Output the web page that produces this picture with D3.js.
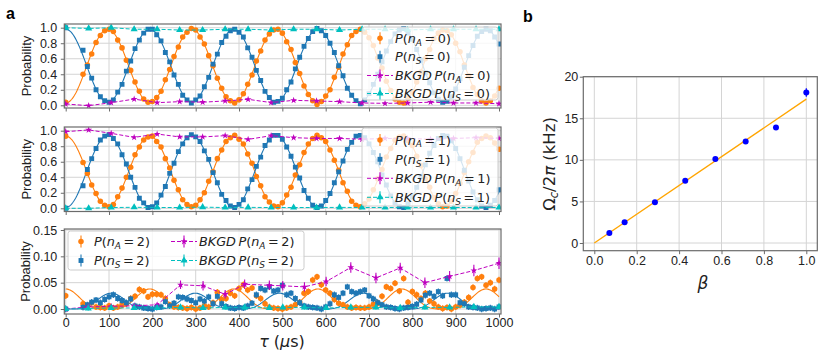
<!DOCTYPE html>
<html>
<head>
<meta charset="utf-8">
<script src="https://cdn.jsdelivr.net/npm/d3@7"></script>
<style>
  body { margin: 0; background: #fff; }
  svg { font-family: "Liberation Sans", Arial, sans-serif; }
</style>
</head>
<body>
<svg id="chart" width="830" height="360"></svg>
<script>
// ---- data: panel a (tau in microseconds) ----
const tau = [
  0, 40, 50, 60, 70, 80, 90, 100, 110, 120,
  130, 140, 150, 160, 170, 180, 190, 200, 210, 220,
  230, 240, 250, 260, 270, 280, 290, 300, 310, 320,
  330, 340, 350, 360, 370, 380, 390, 400, 410, 420,
  430, 440, 450, 460, 470, 480, 490, 500, 510, 520,
  530, 540, 550, 560, 570, 580, 590, 600, 610, 620,
  630, 640, 650, 660, 670, 680, 690, 700, 710, 720,
  730, 740, 750, 760, 770, 780, 790, 800, 810, 820,
  830, 840, 850, 860, 870, 880, 890, 900, 910, 920,
  930, 940, 950, 960, 970, 980, 990, 1000
];

const pA0 = [
  .04, .40, .52, .66, .81, .90, .96, .98, .95, .84,
  .74, .58, .45, .30, .18, .08, .04, .05, .10, .18,
  .33, .46, .63, .75, .88, .94, .99, .97, .88, .79,
  .64, .51, .35, .22, .11, .06, .03, .07, .15, .27,
  .39, .57, .70, .84, .92, .97, .98, .93, .82, .72,
  .55, .41, .25, .14, .06, .01, .05, .12, .20, .36,
  .49, .66, .78, .90, .95, .98, .94, .87, .77, .61,
  .48, .31, .19, .08, .04, .03, .09, .17, .30, .43,
  .60, .72, .86, .93, .97, .96, .91, .80, .69, .52,
  .38, .23, .14, .06, .03, .06, .12, .22
];
const pS0 = [
  1.00, .71, .50, .35, .20, .11, .06, .04, .07, .17,
  .27, .44, .57, .73, .84, .93, .98, .98, .91, .83,
  .68, .56, .39, .27, .13, .07, .03, .07, .12, .24,
  .36, .53, .66, .81, .89, .96, .98, .94, .88, .74,
  .62, .45, .32, .18, .10, .04, .05, .09, .20, .30,
  .47, .62, .76, .86, .95, .99, .96, .90, .80, .68,
  .51, .38, .22, .13, .06, .02, .07, .15, .27, .40,
  .56, .70, .82, .92, .97, .99, .93, .85, .72, .58,
  .42, .29, .16, .08, .04, .05, .11, .21, .34, .49,
  .64, .77, .89, .95, .98, .96, .88, .79
];
const pA1 = [
  .93, .59, .45, .30, .19, .09, .04, .02, .05, .15,
  .26, .40, .53, .69, .79, .88, .92, .93, .86, .79,
  .64, .52, .36, .24, .11, .05, .02, .04, .11, .20,
  .35, .47, .64, .75, .86, .91, .94, .89, .83, .70,
  .58, .41, .29, .15, .08, .03, .02, .07, .17, .27,
  .43, .56, .72, .83, .90, .94, .91, .86, .75, .62,
  .49, .33, .22, .09, .04, .02, .06, .12, .24, .38,
  .50, .66, .77, .88, .92, .93, .87, .81, .67, .55,
  .38, .27, .14, .06, .02, .03, .09, .19, .32, .46,
  .60, .72, .85, .90, .93, .91, .84, .76
];
const pS1 = [
  .00, .29, .50, .64, .77, .88, .93, .95, .90, .83,
  .69, .57, .40, .27, .13, .07, .01, .02, .07, .17,
  .28, .45, .58, .73, .83, .91, .95, .92, .86, .74,
  .63, .46, .33, .18, .10, .03, .01, .05, .11, .25,
  .37, .54, .66, .81, .88, .94, .94, .89, .79, .67,
  .53, .39, .23, .13, .04, .01, .03, .10, .19, .33,
  .47, .61, .76, .85, .93, .94, .91, .83, .72, .60,
  .43, .30, .16, .07, .02, .01, .06, .15, .27, .41,
  .56, .71, .81, .90, .94, .93, .87, .77, .64, .49,
  .35, .21, .11, .03, .01, .04, .10, .24
];
const pA2 = [
  .025, .010, .006, .012, .004, .003, .002, .006, .002, .004,
  .008, .010, .020, .024, .037, .034, .023, .028, .028, .027,
  .020, .008, .004, .003, .002, .001, .003, .000, .002, .006,
  .004, .012, .032, .018, .020, .030, .025, .039, .046, .036,
  .040, .025, .020, .010, .004, .002, .001, .000, .002, .004,
  .008, .013, .030, .033, .055, .061, .046, .036, .030, .018,
  .011, .008, .004, .002, .003, .002, .002, .004, .009, .012,
  .024, .042, .039, .049, .034, .058, .013, .033, .027, .020,
  .030, .015, .010, .004, .001, .003, .000, .004, .007, .013,
  .022, .041, .058, .061, .045, .050, .038, .055
];
const pS2 = [
  .000, .003, .008, .013, .017, .012, .018, .023, .027, .020,
  .016, .012, .019, .006, .004, .002, .001, .000, .003, .004,
  .014, .006, .011, .023, .022, .019, .016, .012, .019, .015,
  .023, .010, .024, .010, .005, .002, .001, .003, .002, .006,
  .011, .027, .039, .036, .042, .034, .036, .045, .027, .030,
  .020, .012, .006, .004, .003, .002, .000, .004, .010, .027,
  .022, .030, .042, .033, .030, .033, .036, .025, .019, .012,
  .008, .004, .003, .001, .000, .002, .003, .005, .009, .017,
  .026, .030, .024, .033, .025, .058, .027, .027, .012, .010,
  .004, .003, .002, .000, .001, .002, .000, .004
];
const errN01 = 0.015;   // error bar half-width, n = 0, 1 panels
const errN2 = 0.006;    // error bar half-width, n = 2 panel

// background measurements
const bkgTau = [0, 53, 105, 158, 211, 263, 316, 368, 421, 474, 526, 579, 632, 684, 737, 789, 842, 895, 947, 1000];
const bkgA0 = [.017, -.005, .034, .080, .034, .047, .040, .056, .077, .035, .064, .056, .047, .030, .025, .030, .040, .030, .030, .020];
const bkgS0 = [1.0, .99, 1.0, .98, .98, .97, .97, .98, .98, .97, .98, .98, .97, .98, .98, .97, .98, .98, .98, .98];
const bkgA1 = [.987, 1.01, .966, .914, .957, .92, .92, .936, .888, .936, .91, .90, .90, .89, .90, .90, .89, .90, .91, .90];
const bkgS1 = [.00, .00, .01, .013, .01, .01, .015, .01, .012, .01, .01, .01, .012, .01, .01, .012, .01, .01, .01, .01];
const bkgTau2 = [0, 52, 105, 158, 211, 265, 317, 368, 413, 470, 501, 551, 601, 658, 716, 772, 829, 886, 942, 1000];
const bkgA2 = [.000, .004, .005, .006, .008, .046, .044, .028, .047, .045, .044, .042, .052, .079, .059, .078, .050, .062, .073, .087];
const bkgA2Err = [.002, .003, .003, .003, .004, .008, .009, .008, .009, .009, .009, .009, .009, .010, .010, .010, .010, .010, .011, .011];
const bkgS2 = [.000, .001, .002, .002, .002, .003, .002, .003, .003, .002, .003, .003, .002, .003, .003, .002, .003, .003, .004, .004];

// fitted Rabi-like oscillation parameters
const fitPeriod = 194;
const rabi = (t, shift = 0) => Math.cos(2 * Math.PI * (t - shift) / fitPeriod);
const fitA0 = t => 0.505 - 0.475 * rabi(t);
const fitS0 = t => 0.51 + 0.47 * rabi(t);
const fitA1 = t => 0.475 + 0.455 * rabi(t);
const fitS1 = t => 0.475 - 0.465 * rabi(t);
const fitA2 = t => 0.038 * Math.pow((1 + rabi(t)) / 2, 2);
const fitS2 = t => 0.030 * Math.pow((1 - rabi(t, 8)) / 2, 2);

// ---- data: panel b ----
const beta = [0.071, 0.143, 0.286, 0.429, 0.571, 0.714, 0.857, 1.0];
const omegaC = [1.2, 2.5, 4.9, 7.5, 10.1, 12.2, 13.9, 18.1];
const omegaErr = [0.2, 0.2, 0.2, 0.2, 0.2, 0.25, 0.2, 0.5];
const omegaSlope = 17.3;

// ---- styles ----
const C_A = "#ff7f0e", C_S = "#1f77b4", C_BA = "#bf00bf", C_BS = "#00bfbf";
const GRID = "#d4d4d4", SPINE = "#6b6b6b", TXT = "#222";
const MATH_FONT = "'DejaVu Sans', sans-serif";

const svg = d3.select("#chart");

const sym = {
  circle: d3.symbol().type(d3.symbolCircle).size(24)(),
  square: d3.symbol().type(d3.symbolSquare).size(24)(),
  star: d3.symbol().type(d3.symbolStar).size(15)(),
  triangle: d3.symbol().type(d3.symbolTriangle).size(22)(),
};

function mathText(sel, parts, size) {
  let sub = false;
  sel.attr("font-family", MATH_FONT);
  parts.forEach(p => {
    const ts = sel.append("tspan").text(p.t);
    if (p.i) ts.attr("font-style", "italic");
    if (p.sub) {
      ts.attr("font-size", size * 0.7).attr("dy", size * 0.22);
      sub = true;
    } else if (sub) {
      ts.attr("dy", -size * 0.22);
      sub = false;
    }
  });
  return sel;
}

function styleAxis(g, size = 12) {
  g.select(".domain").remove();
  g.selectAll(".tick line").attr("stroke", SPINE);
  g.selectAll(".tick text").attr("font-size", size).attr("fill", TXT)
    .attr("font-family", "'Liberation Sans', Arial, sans-serif");
}

// ---- panel a ----
const xA = d3.scaleLinear().domain([0, 1000]).range([65.7, 499]);
const aLeft = 64.3, aRight = 501;

const panelsA = [
  { top: 24, bottom: 108, y: d3.scaleLinear().domain([0, 1]).range([105.3, 27.7]),
    ticks: [0, 0.2, 0.4, 0.6, 0.8, 1], fmt: d3.format(".1f"), n: 0,
    A: pA0, S: pS0, fA: fitA0, fS: fitS0, err: errN01,
    bTau: bkgTau, bA: bkgA0, bS: bkgS0, bErrA: null,
    legend: { x0: 362, x1: 498, top: 27, bottom: 100, rows: [38.3, 56.7, 75.5, 93.5] } },
  { top: 127, bottom: 211.5, y: d3.scaleLinear().domain([0, 1]).range([208.3, 130.7]),
    ticks: [0, 0.2, 0.4, 0.6, 0.8, 1], fmt: d3.format(".1f"), n: 1,
    A: pA1, S: pS1, fA: fitA1, fS: fitS1, err: errN01,
    bTau: bkgTau, bA: bkgA1, bS: bkgS1, bErrA: null,
    legend: { x0: 362, x1: 498, top: 128, bottom: 206, rows: [140, 159.3, 178.3, 197.3] } },
  { top: 229, bottom: 314, y: d3.scaleLinear().domain([0, 0.15]).range([309, 230]),
    ticks: [0, 0.05, 0.10, 0.15], fmt: d3.format(".2f"), n: 2,
    A: pA2, S: pS2, fA: fitA2, fS: fitS2, err: errN2,
    bTau: bkgTau2, bA: bkgA2, bS: bkgS2, bErrA: bkgA2Err,
    legend: null },
];

const fitT = d3.range(0, 1001, 2);

panelsA.forEach((p, i) => {
  const g = svg.append("g");
  const y = p.y;

  // grid
  g.append("g").selectAll("line").data(xA.ticks(10)).join("line")
    .attr("x1", d => xA(d)).attr("x2", d => xA(d))
    .attr("y1", p.top).attr("y2", p.bottom)
    .attr("stroke", GRID).attr("stroke-width", 1);
  g.append("g").selectAll("line").data(p.ticks).join("line")
    .attr("x1", aLeft).attr("x2", aRight)
    .attr("y1", d => y(d)).attr("y2", d => y(d))
    .attr("stroke", GRID).attr("stroke-width", 1);

  // clip
  const clipId = "clipA" + i;
  svg.append("clipPath").attr("id", clipId).append("rect")
    .attr("x", aLeft).attr("y", p.top)
    .attr("width", aRight - aLeft).attr("height", p.bottom - p.top);
  const plot = g.append("g").attr("clip-path", `url(#${clipId})`);

  // fits
  const fitLine = f => d3.line().x(t => xA(t)).y(t => y(f(t)))(fitT);
  plot.append("path").attr("d", fitLine(p.fA)).attr("fill", "none")
    .attr("stroke", C_A).attr("stroke-width", 1.1);
  plot.append("path").attr("d", fitLine(p.fS)).attr("fill", "none")
    .attr("stroke", C_S).attr("stroke-width", 1.1);

  // measured points with error bars
  const drawPts = (vals, color, shape, err) => {
    const pts = d3.zip(tau, vals);
    plot.append("g").selectAll("line").data(pts).join("line")
      .attr("x1", d => xA(d[0])).attr("x2", d => xA(d[0]))
      .attr("y1", d => y(d[1] - err)).attr("y2", d => y(d[1] + err))
      .attr("stroke", color).attr("stroke-width", 1.1);
    plot.append("g").selectAll("path").data(pts).join("path")
      .attr("d", sym[shape])
      .attr("transform", d => `translate(${xA(d[0])},${y(d[1])})`)
      .attr("fill", color);
  };
  drawPts(p.A, C_A, "circle", p.err);
  drawPts(p.S, C_S, "square", p.err);

  // background measurements
  const drawBkg = (vals, errs, color, shape) => {
    const pts = vals.map((v, k) => [p.bTau[k], v, errs ? errs[k] : 0.004]);
    plot.append("path")
      .attr("d", d3.line().x(d => xA(d[0])).y(d => y(d[1]))(pts))
      .attr("fill", "none").attr("stroke", color).attr("stroke-width", 1)
      .attr("stroke-dasharray", "4,2");
    plot.append("g").selectAll("line").data(pts).join("line")
      .attr("x1", d => xA(d[0])).attr("x2", d => xA(d[0]))
      .attr("y1", d => y(d[1] - d[2])).attr("y2", d => y(d[1] + d[2]))
      .attr("stroke", color).attr("stroke-width", 1.1);
    plot.append("g").selectAll("path").data(pts).join("path")
      .attr("d", sym[shape])
      .attr("transform", d => `translate(${xA(d[0])},${y(d[1])})`)
      .attr("fill", color);
  };
  drawBkg(p.bA, p.bErrA, C_BA, "star");
  drawBkg(p.bS, null, C_BS, "triangle");

  // frame
  g.append("rect").attr("x", aLeft).attr("y", p.top)
    .attr("width", aRight - aLeft).attr("height", p.bottom - p.top)
    .attr("fill", "none").attr("stroke", SPINE).attr("stroke-width", 1.2);

  // axes
  const ay = g.append("g").attr("transform", `translate(${aLeft},0)`)
    .call(d3.axisLeft(y).tickValues(p.ticks).tickFormat(p.fmt).tickSize(3.5).tickPadding(3.5));
  styleAxis(ay, 12.5);
  const ax = g.append("g").attr("transform", `translate(0,${p.bottom})`)
    .call(d3.axisBottom(xA).ticks(10).tickFormat(i === 2 ? d3.format("d") : "").tickSize(3.5).tickPadding(0.5));
  styleAxis(ax, 12.5);

  g.append("text")
    .attr("transform", `translate(${i === 2 ? 25 : 26.7},${(p.top + p.bottom) / 2}) rotate(-90)`)
    .attr("text-anchor", "middle").attr("dy", "0.35em")
    .attr("font-size", 13).attr("fill", TXT).text("Probability");

  // legend
  const n = p.n;
  const eq = `\u2009=\u2009${n})`;
  const items = [
    { color: C_A, shape: "circle", dashed: false, parts: [{ t: "P", i: 1 }, { t: "(" }, { t: "n", i: 1 }, { t: "A", i: 1, sub: 1 }, { t: eq }] },
    { color: C_S, shape: "square", dashed: false, parts: [{ t: "P", i: 1 }, { t: "(" }, { t: "n", i: 1 }, { t: "S", i: 1, sub: 1 }, { t: eq }] },
    { color: C_BA, shape: "star", dashed: true, parts: [{ t: "BKGD\u2009P", i: 1 }, { t: "(" }, { t: "n", i: 1 }, { t: "A", i: 1, sub: 1 }, { t: eq }] },
    { color: C_BS, shape: "triangle", dashed: true, parts: [{ t: "BKGD\u2009P", i: 1 }, { t: "(" }, { t: "n", i: 1 }, { t: "S", i: 1, sub: 1 }, { t: eq }] },
  ];
  let placed;
  let box;
  if (p.legend) {
    box = p.legend;
    placed = items.map((it, k) => ({ ...it, y: box.rows[k], hx0: 367, hx1: 393, mx: 380, tx: 395 }));
  } else {
    box = { x0: 68, x1: 304, top: 231, bottom: 270 };
    const rows = [241.5, 260.5];
    placed = items.map((it, k) => k < 2
      ? { ...it, y: rows[k], hx0: 71, hx1: 91, mx: 81, tx: 94 }
      : { ...it, y: rows[k - 2], hx0: 171, hx1: 197, mx: 184, tx: 199 });
  }
  const lg = g.append("g");
  lg.append("rect").attr("x", box.x0).attr("y", box.top)
    .attr("width", box.x1 - box.x0).attr("height", box.bottom - box.top)
    .attr("rx", 2.5).attr("fill", "#fff").attr("fill-opacity", 0.8)
    .attr("stroke", "#cccccc").attr("stroke-width", 1);
  placed.forEach(it => {
    if (it.dashed) {
      lg.append("line").attr("x1", it.hx0).attr("x2", it.hx1)
        .attr("y1", it.y).attr("y2", it.y)
        .attr("stroke", it.color).attr("stroke-width", 1).attr("stroke-dasharray", "4,2");
    }
    lg.append("line").attr("x1", it.mx).attr("x2", it.mx)
      .attr("y1", it.y - 6).attr("y2", it.y + 6)
      .attr("stroke", it.color).attr("stroke-width", 1.1);
    lg.append("path").attr("d", sym[it.shape])
      .attr("transform", `translate(${it.mx},${it.y})`).attr("fill", it.color);
    const t = lg.append("text").attr("x", it.tx).attr("y", it.y + 4.5)
      .attr("font-size", 12.8).attr("fill", TXT);
    mathText(t, it.parts, 12.8);
  });
});

// x label for panel a
mathText(svg.append("text").attr("x", 282).attr("y", 347)
  .attr("text-anchor", "middle").attr("font-size", 16).attr("fill", TXT),
  [{ t: "τ", i: 1 }, { t: " (" }, { t: "μ", i: 1 }, { t: "s)" }], 16);

svg.append("text").attr("x", 6).attr("y", 18.5)
  .attr("font-size", 16).attr("font-weight", "bold").attr("fill", "#000").text("a");

// ---- panel b ----
const xB = d3.scaleLinear().domain([0, 1]).range([594.3, 806.3]);
const yB = d3.scaleLinear().domain([0, 20]).range([243, 76.7]);
const bL = 583.3, bR = 817.3, bT = 76.7, bB = 250.7;
const gb = svg.append("g");

gb.append("g").selectAll("line").data(xB.ticks(5)).join("line")
  .attr("x1", d => xB(d)).attr("x2", d => xB(d)).attr("y1", bT).attr("y2", bB)
  .attr("stroke", GRID).attr("stroke-width", 1);
gb.append("g").selectAll("line").data(yB.ticks(4)).join("line")
  .attr("x1", bL).attr("x2", bR).attr("y1", d => yB(d)).attr("y2", d => yB(d))
  .attr("stroke", GRID).attr("stroke-width", 1);

gb.append("line")
  .attr("x1", xB(0)).attr("y1", yB(0))
  .attr("x2", xB(1)).attr("y2", yB(omegaSlope))
  .attr("stroke", "#ffa500").attr("stroke-width", 1.3);

const bPts = d3.zip(beta, omegaC, omegaErr);
gb.append("g").selectAll("line").data(bPts).join("line")
  .attr("x1", d => xB(d[0])).attr("x2", d => xB(d[0]))
  .attr("y1", d => yB(d[1] - d[2])).attr("y2", d => yB(d[1] + d[2]))
  .attr("stroke", "#0000ff").attr("stroke-width", 1.2);
gb.append("g").selectAll("circle").data(bPts).join("circle")
  .attr("cx", d => xB(d[0])).attr("cy", d => yB(d[1])).attr("r", 3)
  .attr("fill", "#0000ff");

gb.append("rect").attr("x", bL).attr("y", bT)
  .attr("width", bR - bL).attr("height", bB - bT)
  .attr("fill", "none").attr("stroke", SPINE).attr("stroke-width", 1.2);

styleAxis(gb.append("g").attr("transform", `translate(${bL},0)`)
  .call(d3.axisLeft(yB).ticks(4).tickSize(3.5).tickPadding(1.5)), 12.5);
styleAxis(gb.append("g").attr("transform", `translate(0,${bB})`)
  .call(d3.axisBottom(xB).ticks(5).tickFormat(d3.format(".1f")).tickSize(3.5).tickPadding(2.3)), 12.5);

mathText(gb.append("text")
  .attr("transform", `translate(549,164) rotate(-90)`)
  .attr("text-anchor", "middle").attr("dy", "0.35em")
  .attr("font-size", 16.5).attr("fill", TXT),
  [{ t: "Ω" }, { t: "c", i: 1, sub: 1 }, { t: "/2" }, { t: "π", i: 1 }, { t: " (kHz)" }], 16.5);

gb.append("text").attr("x", 703).attr("y", 289)
  .attr("text-anchor", "middle").attr("font-size", 17).attr("font-style", "italic")
  .attr("font-family", MATH_FONT).attr("fill", TXT).text("β");

svg.append("text").attr("x", 523).attr("y", 22)
  .attr("font-size", 16).attr("font-weight", "bold").attr("fill", "#000").text("b");
</script>
</body>
</html>
